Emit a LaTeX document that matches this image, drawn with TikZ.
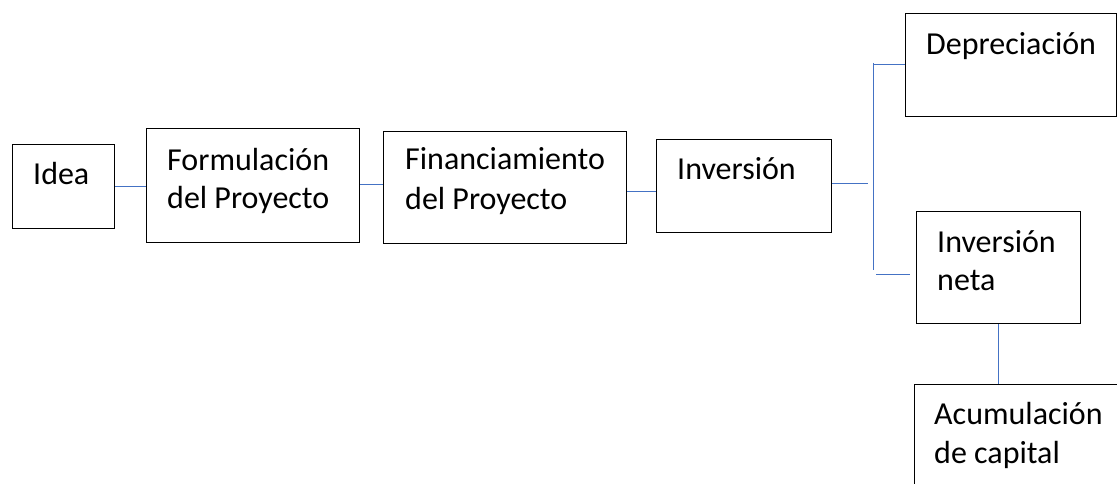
\documentclass[tikz,border=0pt]{standalone}
\usepackage{fontspec}
\setmainfont{Carlito}
\definecolor{linkblue}{RGB}{68,114,196}
\begin{document}
\begin{tikzpicture}[x=1pt,y=-1pt,
  box/.style={draw=black,line width=1.1pt,fill=white,inner sep=0pt,anchor=north west},
  lbl/.style={anchor=base west,inner sep=0pt,align=left,font=\fontsize{32}{38}\selectfont},
  link/.style={draw=linkblue,line width=0.9pt}]
\useasboundingbox[fill=white] (0,0) rectangle (1117,484);
\clip (0,0) rectangle (1117,484);
% boxes
\node[box,minimum width=102pt,minimum height=84pt] (idea) at (12,144) {};
\node[box,minimum width=213pt,minimum height=114pt] (form) at (146,128) {};
\node[box,minimum width=243pt,minimum height=112pt] (fin) at (383,131) {};
\node[box,minimum width=175pt,minimum height=93pt] (inv) at (656,139) {};
\node[box,minimum width=211pt,minimum height=103pt] (dep) at (905,13) {};
\node[box,minimum width=164pt,minimum height=112pt] (neta) at (916,211) {};
\node[box,minimum width=220pt,minimum height=120pt] (acum) at (914,384) {};
% labels (base = baseline of last line)
\node[lbl] (tidea) at (33,185) {Idea};
\node[lbl] (tform) at (167,208) {Formulación\\del Proyecto};
\node[lbl,font=\fontsize{32}{40}\selectfont] (tfin) at (405,210) {Financiamiento\\del Proyecto};
\node[lbl] (tinv) at (677,180) {Inversión};
\node[lbl] (tdep) at (926,55) {Depreciación};
\node[lbl] (tneta) at (937,290) {Inversión\\neta};
\node[lbl,font=\fontsize{32}{39}\selectfont] (tacum) at (934,463) {Acumulación\\de capital};
% connectors
\coordinate (j1) at (868,183);
\coordinate (vtop) at (873,63);
\coordinate (vbot) at (873,270);
\coordinate (hdep) at (874,64);
\coordinate (hneta) at (876,274);
\coordinate (hneta2) at (910,274);
\draw[link] (idea.east) -- (idea.east -| form.west);
\draw[link] ([yshift=1pt]form.east) -- ([yshift=1pt]form.east -| fin.west);
\draw[link] ([yshift=-4pt]fin.east) -- ([yshift=-4pt]fin.east -| inv.west);
\draw[link] (inv.east |- j1) -- (j1);
\draw[link] (vtop) -- (vbot);
\draw[link] (hdep) -- (hdep -| dep.west);
\draw[link] (hneta) -- (hneta2);
\draw[link] (998,0 |- neta.south) -- (998,0 |- acum.north);
\end{tikzpicture}
\end{document}
